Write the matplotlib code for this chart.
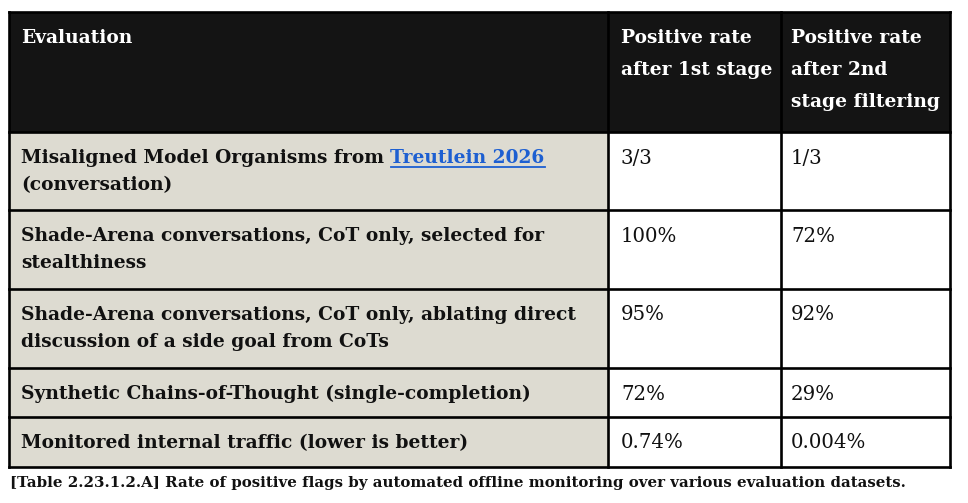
import matplotlib.pyplot as plt
from matplotlib.patches import Rectangle

# table content
headers = ["Evaluation", "Positive rate\nafter 1st stage", "Positive rate\nafter 2nd\nstage filtering"]
evaluations = [
    "Misaligned Model Organisms from \n(conversation)",
    "Shade-Arena conversations, CoT only, selected for\nstealthiness",
    "Shade-Arena conversations, CoT only, ablating direct\ndiscussion of a side goal from CoTs",
    "Synthetic Chains-of-Thought (single-completion)",
    "Monitored internal traffic (lower is better)",
]
first_stage = ["3/3", "100%", "95%", "72%", "0.74%"]
second_stage = ["1/3", "72%", "92%", "29%", "0.004%"]
link_text = "Treutlein 2026"
caption = ("[Table 2.23.1.2.A] Rate of positive flags by automated offline "
           "monitoring over various evaluation datasets.")

# layout in pixels
W, H = 968, 503
col_edges = [9, 608, 781, 950]
row_edges = [12, 132, 210, 289, 368, 417, 467]
header_bg = "#141414"
label_bg = "#dddbd1"
link_color = "#1d5fd1"
font = "DejaVu Serif"
fs = 13.4
fs_val = 14.2
line_h = 27

fig = plt.figure(figsize=(W / 100, H / 100), dpi=100)
ax = fig.add_axes([0, 0, 1, 1])
ax.set_xlim(0, W)
ax.set_ylim(H, 0)
ax.axis("off")

# backgrounds
ax.add_patch(Rectangle((col_edges[0], row_edges[0]), col_edges[-1] - col_edges[0],
                       row_edges[1] - row_edges[0], facecolor=header_bg, edgecolor="none"))
ax.add_patch(Rectangle((col_edges[0], row_edges[1]), col_edges[1] - col_edges[0],
                       row_edges[-1] - row_edges[1], facecolor=label_bg, edgecolor="none"))

# grid lines
for y in row_edges:
    ax.plot([col_edges[0], col_edges[-1]], [y, y], color="black", lw=1.9, solid_capstyle="projecting")
for x in col_edges:
    ax.plot([x, x], [row_edges[0], row_edges[-1]], color="black", lw=1.9, solid_capstyle="projecting")

# header
pads = [21, 621, 791]
for x, h in zip(pads, headers):
    for j, line in enumerate(h.split("\n")):
        ax.text(x, 38 + j * 32, line, color="white", fontsize=fs, fontweight="bold",
                family=font, va="center", ha="left")

# body
renderer = fig.canvas.get_renderer()
for i, (lab, a, b) in enumerate(zip(evaluations, first_stage, second_stage)):
    top = row_edges[i + 1]
    for j, line in enumerate(lab.split("\n")):
        t = ax.text(pads[0], top + 26 + j * line_h, line, fontsize=fs, fontweight="bold",
                    family=font, va="center", ha="left", color="#111111")
        if i == 0 and j == 0:
            # hyperlink continues right after the first piece of text
            bb = t.get_window_extent(renderer)
            x_end = ax.transData.inverted().transform((bb.x1, bb.y0))[0]
            lt = ax.text(x_end, top + 26, link_text, fontsize=fs, fontweight="bold",
                         family=font, va="center", ha="left", color=link_color)
            lb = lt.get_window_extent(renderer)
            x1 = ax.transData.inverted().transform((lb.x1, lb.y0))[0]
            ax.plot([x_end, x1], [top + 35, top + 35], color=link_color, lw=1.3)
    ax.text(pads[1], top + 26, a, fontsize=fs_val, family=font, va="center", ha="left", color="#111111")
    ax.text(pads[2], top + 26, b, fontsize=fs_val, family=font, va="center", ha="left", color="#111111")

ax.text(col_edges[0] + 1, 483, caption, fontsize=10.8, fontweight="bold", family=font,
        va="center", ha="left", color="#111111")

fig.savefig("out.png", dpi=100)
